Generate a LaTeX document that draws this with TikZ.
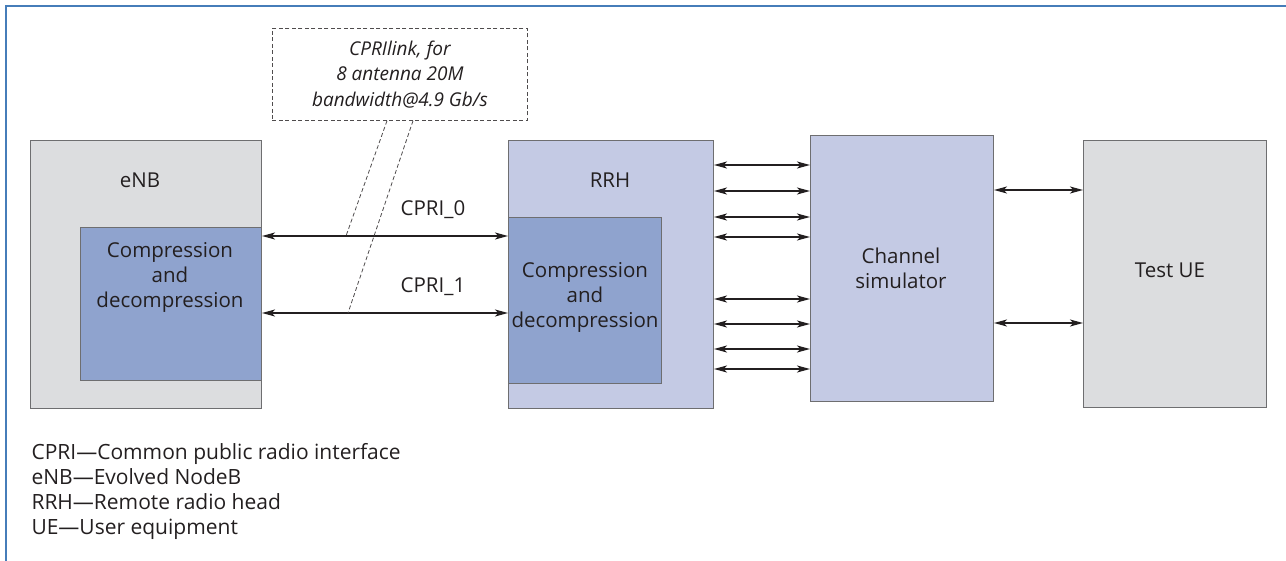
\documentclass[tikz,border=0pt]{standalone}
\usepackage{fontspec}
\setmainfont{Open Sans}
\usetikzlibrary{arrows.meta}

\definecolor{framecol}{RGB}{70,125,185}
\definecolor{boxgray}{RGB}{220,221,223}
\definecolor{boxlav}{RGB}{196,202,228}
\definecolor{boxblue}{RGB}{143,163,206}
\definecolor{edgecol}{RGB}{110,110,112}
\definecolor{txtcol}{RGB}{35,31,32}

\tikzset{
  block/.style={draw=edgecol,line width=1pt,anchor=north west,inner sep=0pt},
  link/.style={<->,line width=1.2pt,txtcol,>={Stealth[length=13pt,width=7pt,inset=3.5pt]}},
  label/.style={font=\fontsize{20.5}{25}\selectfont,text=txtcol},
  note/.style={draw=txtcol!80,dash pattern=on 4pt off 2.5pt,line width=0.8pt}
}

\begin{document}
\begin{tikzpicture}[x=1pt,y=-1pt]
\useasboundingbox (0,0) rectangle (1286,561);

% Frame
\draw[framecol,line width=2.2pt] (1286,6) -- (6,6) -- (6,561);

% Blocks
\node[block,fill=boxgray,minimum width=231pt,minimum height=268pt] (enb) at (30,140) {};
\node[block,fill=boxblue,minimum width=181pt,minimum height=153pt] (enbcomp) at (80,227) {};
\node[block,fill=boxlav,minimum width=205pt,minimum height=268pt] (rrh) at (508,140) {};
\node[block,fill=boxblue,minimum width=153pt,minimum height=166pt] (rrhcomp) at (508,217) {};
\node[block,fill=boxlav,minimum width=183pt,minimum height=266pt] (chan) at (810,135) {};
\node[block,fill=boxgray,minimum width=183pt,minimum height=267pt] (ue) at (1083,140) {};

% Block labels
\node[label] (enblab) at (140,180) {eNB};
\node[label,align=center] (enbtxt) at (170,277) {Compression\\and\\decompression};
\node[label] (rrhlab) at (610,180) {RRH};
\node[label,align=center] (rrhtxt) at (585,297) {Compression\\and\\decompression};
\node[label,align=center] (chantxt) at (901,268) {Channel\\simulator};
\node[label] (uetxt) at (1170,270) {Test UE};

% CPRI links
\draw[link] (enb.east |- 0,236) -- (rrhcomp.west |- 0,236);
\draw[link] (enb.east |- 0,313) -- (rrhcomp.west |- 0,313);
\node[label] (cpri0) at (433,210) {CPRI\_0};
\node[label] (cpri1) at (433,287) {CPRI\_1};

% RRH to channel simulator
\foreach \y in {165,191,217,237,299,324,349,369}
  \draw[link] (rrh.east |- 0,\y) -- (chan.west |- 0,\y);

% Channel simulator to test UE
\foreach \y in {190,323}
  \draw[link] (chan.east |- 0,\y) -- (ue.west |- 0,\y);

% Link note
\node[note,anchor=north west,minimum width=255pt,minimum height=92pt,inner sep=0pt] (notebox) at (272,28) {};
\node[label,align=center,font=\itshape\fontsize{19}{25.5}\selectfont] (notetxt) at (notebox.center) {CPRIlink, for\\8 antenna 20M\\bandwidth@4.9 Gb/s};
\coordinate (tap0) at (346,236);
\coordinate (tap1) at (348,313);
\draw[note] (notebox.south -| 387,0) -- (tap0);
\draw[note] (notebox.south -| 413,0) -- (tap1);

% Legend
\node[label,anchor=west,align=left,font=\fontsize{21}{25}\selectfont] (legend) at (28,491)
  {CPRI---Common public radio interface\\eNB---Evolved NodeB\\RRH---Remote radio head\\UE---User equipment};
\end{tikzpicture}
\end{document}
